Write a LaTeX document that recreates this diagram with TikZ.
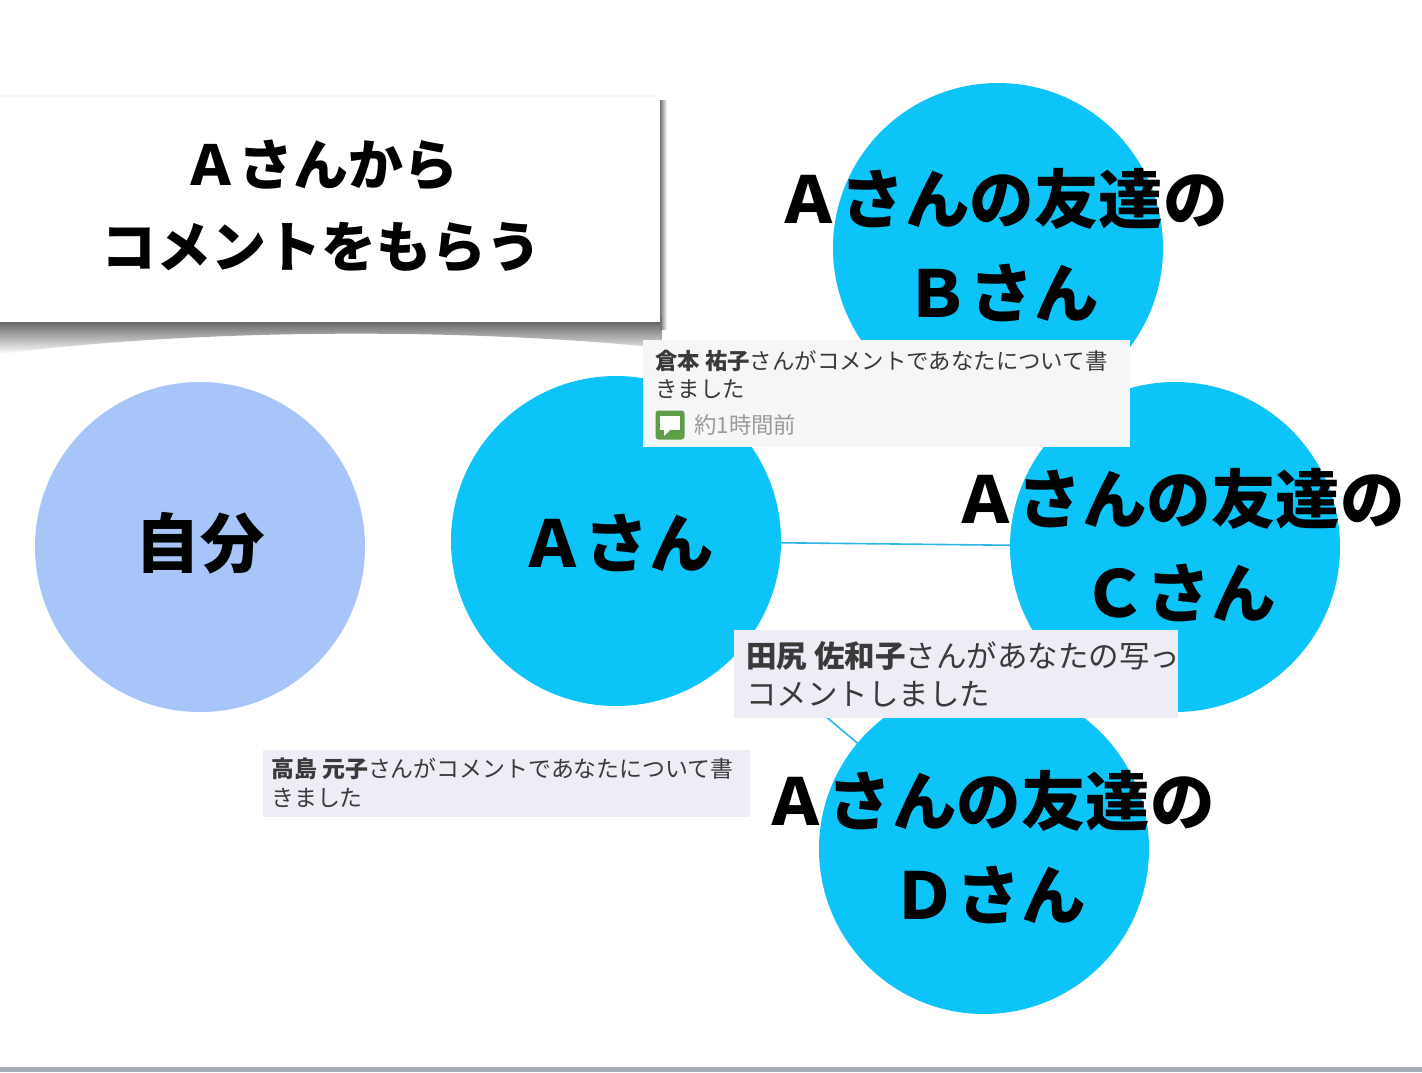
\documentclass[tikz,border=0pt]{standalone}
\usepackage{fontspec}
\setmainfont{Noto Sans CJK JP}
\usetikzlibrary{fadings}
\definecolor{selfblue}{HTML}{A7C5F9}
\definecolor{cyanc}{HTML}{0DC4F8}
\definecolor{linkc}{HTML}{2CB5E5}
\definecolor{boxa}{HTML}{F5F6F8}
\definecolor{boxb}{HTML}{ECEDF5}
\definecolor{cmtxt}{HTML}{3A3A3A}
\definecolor{timegray}{HTML}{9A9A9A}
\definecolor{icongreen}{HTML}{5E9E48}
\definecolor{bottomline}{HTML}{A8ACB8}
\tikzfading[name=shadowfade, top color=transparent!0, bottom color=transparent!100]
\tikzfading[name=sidefade, left color=transparent!0, right color=transparent!100]
\begin{document}
\begin{tikzpicture}[x=1pt,y=-1pt,
  circ/.style={circle,minimum size=330pt,inner sep=0pt,draw=none},
  bigtxt/.style={font=\fontsize{64.5}{94}\selectfont\bfseries,align=center,text=black,inner sep=0pt},
  titletxt/.style={font=\fontsize{55}{82}\selectfont\bfseries,align=center,text=black,inner sep=0pt},
  link/.style={draw=linkc,line width=1.6pt},
  cbox/.style={anchor=north west,inner sep=0pt,draw=none},
  smalltxt/.style={anchor=west,inner sep=0pt,text=cmtxt,font=\fontsize{22.4}{29}\selectfont},
  smalltxtb/.style={anchor=west,inner sep=0pt,text=cmtxt,font=\fontsize{22.9}{29}\selectfont},
  midtxt/.style={anchor=west,inner sep=0pt,text=cmtxt,font=\fontsize{30.5}{38}\selectfont}]
\useasboundingbox (0,0) rectangle (1422,1072);
\fill[white] (0,0) rectangle (1422,1072);
\fill[bottomline] (0,1067) rectangle (1422,1072);

% circles
\node[circ,fill=selfblue] (self) at (200,547) {};
\node[circ,fill=cyanc] (A) at (616,541) {};
\node[circ,fill=cyanc] (B) at (998,248) {};
\node[circ,fill=cyanc] (C) at (1175,547) {};
\node[circ,fill=cyanc] (D) at (984,849) {};

% connectors
\draw[link] (A) -- (C);
\draw[link] (A) -- (D);

% circle labels
\node[bigtxt] (selfT) at (200,543) {自分};
\node[bigtxt] (AT) at (617,543) {Ａさん};
\node[bigtxt] (BT) at (1002,245) {Ａさんの友達の\\Ｂさん};
\node[bigtxt] (CT) at (1179,545) {Ａさんの友達の\\Ｃさん};
\node[bigtxt] (DT) at (989,847) {Ａさんの友達の\\Ｄさん};

% title box with curled shadow
\fill[black!70,path fading=shadowfade] (0,316) -- (663,316) -- (663,348)
  .. controls (470,328) and (200,328) .. (0,354) -- cycle;
\fill[black!55,path fading=sidefade] (660,100) rectangle (667,330);
\fill[black!3] (0,95) rectangle (660,98);
\node[cbox,fill=white,minimum width=660pt,minimum height=225pt] (title) at (0,97) {};
\node[titletxt] (titleT) at (321,206) {Ａさんから\\コメントをもらう};

% comment 1
\node[cbox,fill=boxa,minimum width=487pt,minimum height=107pt] (c1) at (643,340) {};
\node[smalltxt] (c1a) at (655,361) {\textbf{倉本 祐子}さんがコメントであなたについて書};
\node[smalltxt] (c1b) at (655,389) {きました};
\node[anchor=center,fill=icongreen,rounded corners=3pt,minimum size=29pt,inner sep=0pt] (icon) at (670,425) {};
\fill[white] ([shift={(-10,-9)}]icon.center) rectangle ([shift={(10,5)}]icon.center);
\fill[white] ([shift={(-6,5)}]icon.center) -- ([shift={(-6,11)}]icon.center) -- ([shift={(0,5)}]icon.center) -- cycle;
\node[smalltxt,text=timegray] (c1c) at (694,425) {約1時間前};

% comment 2
\begin{scope}
\clip (734,630) rectangle (1178,718);
\node[cbox,fill=boxb,minimum width=444pt,minimum height=88pt] (c2) at (734,630) {};
\node[midtxt] (c2a) at (746,656) {\textbf{田尻 佐和子}さんがあなたの写っ};
\node[midtxt] (c2b) at (746,694) {コメントしました};
\end{scope}

% comment 3
\node[cbox,fill=boxb,minimum width=487pt,minimum height=67pt] (c3) at (263,750) {};
\node[smalltxtb] (c3a) at (271,769) {\textbf{高島 元子}さんがコメントであなたについて書};
\node[smalltxtb] (c3b) at (271,798) {きました};
\end{tikzpicture}
\end{document}
